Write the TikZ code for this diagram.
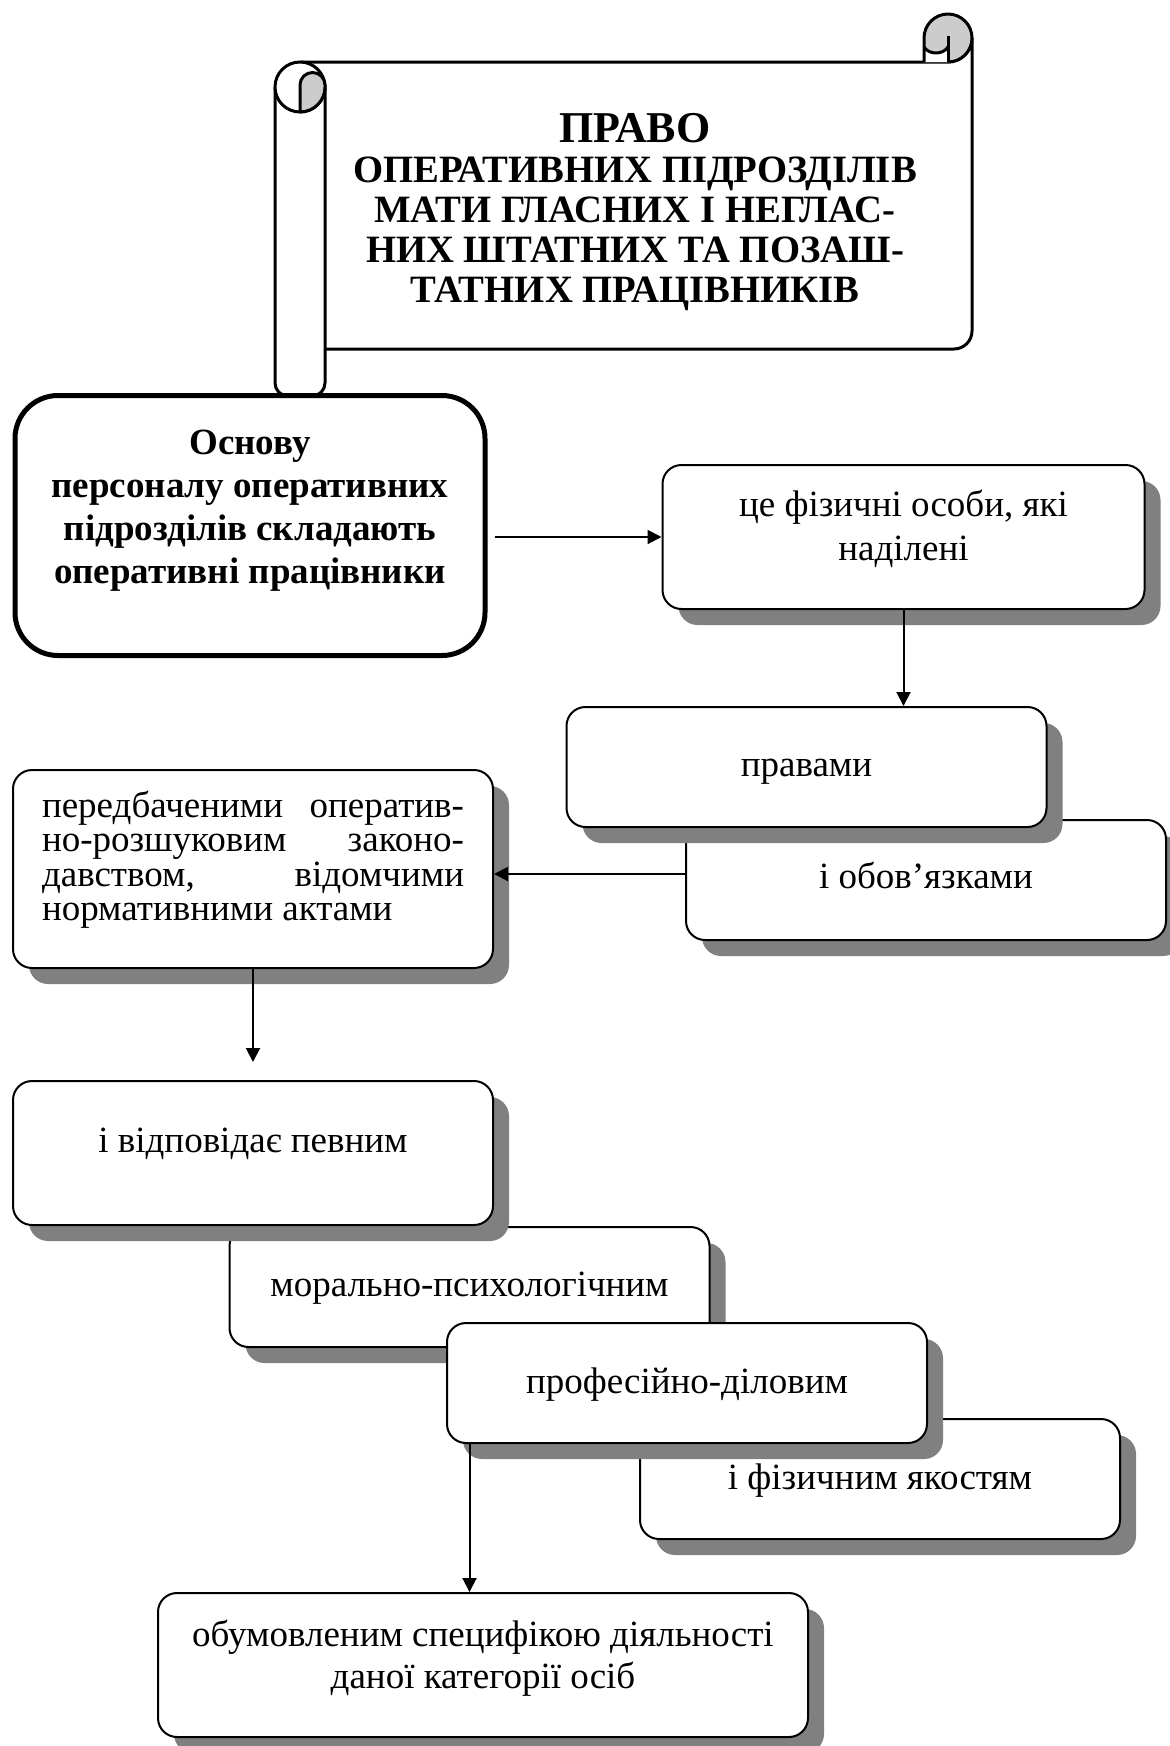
\documentclass[tikz,border=0pt]{standalone}
\usepackage{fontspec}
\setmainfont{Liberation Serif}
\usepackage{tikz}
\usetikzlibrary{positioning,arrows.meta,shadows}
\definecolor{shadowgray}{RGB}{128,128,128}
\definecolor{curlgray}{RGB}{204,204,204}
% box of fixed size, text hung from the top
\newcommand{\cardtext}[4]{\parbox[c][#1][t]{#2}{\centering\rule{0pt}{#3}#4}}

\begin{document}
\begin{tikzpicture}[x=1pt,y=-1pt,
  every node/.style={font={\fontsize{37}{40}\selectfont},inner sep=0pt},
  card/.style={draw,line width=2pt,rounded corners=19pt,fill=white,
    drop shadow={shadow xshift=16pt,shadow yshift=-16pt,fill=shadowgray,opacity=1}},
  arr/.style={line width=2pt,-{Triangle[length=14pt,width=14pt]}},
  scrollline/.style={line width=3pt,line join=round}]
\useasboundingbox (0,0) rectangle (1170,1746);

% scroll
\draw[scrollline,fill=white] (300,62) -- (948,62) arc[start angle=90,end angle=0,radius=24]
  -- (972,331) arc[start angle=0,end angle=90,radius=18] -- (325,349);
\fill[curlgray] (924,62) -- (924,38) arc[start angle=180,end angle=360,radius=24]
  arc[start angle=0,end angle=90,radius=24] -- cycle;
\fill[white] (924,47) .. controls (929,55) and (943,55) .. (948,47) -- (948,62) -- (924,62) -- cycle;
\draw[scrollline] (924,62) -- (924,38) arc[start angle=180,end angle=360,radius=24]
  arc[start angle=0,end angle=90,radius=24];
\draw[scrollline] (924,47) .. controls (929,55) and (943,55) .. (948,47);
\draw[scrollline] (948,36) -- (948,62);
\draw[scrollline,fill=white,rounded corners=13pt] (275,87) -- (275,396) -- (325,396) -- (325,87);
\draw[scrollline,fill=white] (300,87) circle[radius=25];
\draw[scrollline,fill=curlgray] (300,112) -- (300,85) arc[start angle=180,end angle=360,radius=12.5]
  -- (325,87) arc[start angle=0,end angle=90,radius=25] -- cycle;
\node[font={\fontsize{38.7}{40}\selectfont\bfseries},align=center,anchor=north] (title) at (635,113)
  {{\fontsize{44}{40}\selectfont ПРАВО}\\ОПЕРАТИВНИХ ПІДРОЗДІЛІВ\\МАТИ ГЛАСНИХ І НЕГЛАС-\\НИХ ШТАТНИХ ТА ПОЗАШ-\\ТАТНИХ ПРАЦІВНИКІВ};

% boxes
\node[draw,line width=5pt,rounded corners=43pt,fill=white,font={\fontsize{37}{43}\selectfont\bfseries}] (osnova) at (250,525.5)
  {\cardtext{260pt}{470pt}{58.5pt}{Основу\\персоналу оперативних\\підрозділів складають\\оперативні працівники}};
\node[card,font={\fontsize{37}{44}\selectfont}] (fiz) at (903.5,537) {\cardtext{144pt}{482pt}{51pt}{це фізичні особи, які\\наділені}};
\node[card] (obov) at (926,880) {\cardtext{120pt}{480pt}{68pt}{і обов’язками}};
\node[card] (prava) at (806.5,767) {\cardtext{120pt}{480pt}{69pt}{правами}};
\node[card,font={\fontsize{37}{34.5}\selectfont}] (peredb) at (253,869)
  {\cardtext{198pt}{480pt}{47pt}{\makebox[422pt][s]{передбаченими оператив-}\\\makebox[422pt][s]{но-розшуковим законо-}\\\makebox[422pt][s]{давством, відомчими}\\\makebox[422pt][l]{нормативними актами}}};
\node[card] (moral) at (469.5,1287) {\cardtext{120pt}{480pt}{69pt}{морально-психологічним}};
\node[card] (fizyak) at (880,1479) {\cardtext{120pt}{480pt}{70pt}{і фізичним якостям}};
\node[card] (vidpov) at (253,1153) {\cardtext{144pt}{480pt}{71pt}{і відповідає певним}};
\node[card] (prof) at (687,1383) {\cardtext{120pt}{480pt}{70pt}{професійно-діловим}};
\node[card,font={\fontsize{37}{42}\selectfont}] (obumov) at (483,1665) {\cardtext{144pt}{650pt}{53pt}{обумовленим специфікою діяльності\\даної категорії осіб}};

% arrows
\draw[arr,shorten <=7pt] (osnova.east |- fiz) -- (fiz.west);
\draw[arr] (fiz.south) -- (fiz.south |- prava.north);
\draw[arr] ([yshift=6pt]obov.west) -- ([yshift=6pt]obov.west -| peredb.east);
\draw[arr,shorten >=18pt] (peredb.south) -- (peredb.south |- vidpov.north);
\draw[arr] (prof.south -| moral) -- (obumov.north -| moral);
\end{tikzpicture}
\end{document}
